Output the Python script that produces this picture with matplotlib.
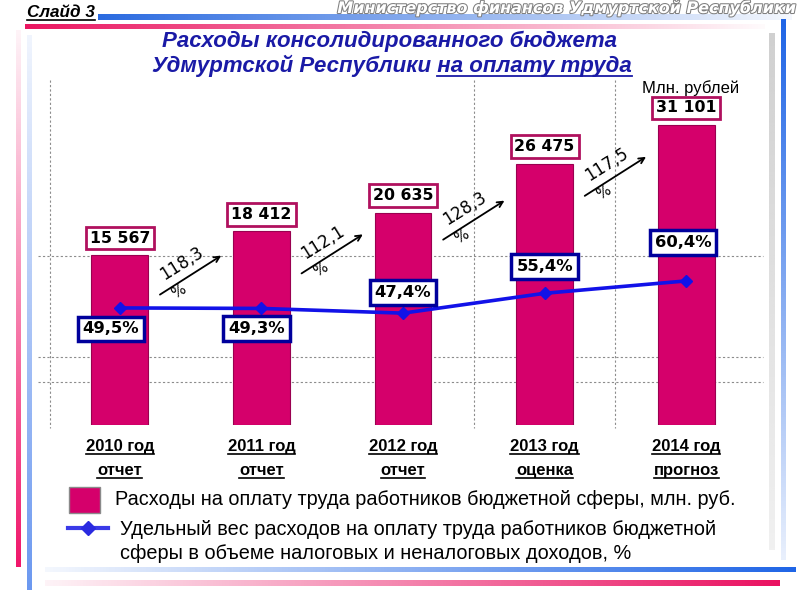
import matplotlib
matplotlib.use('Agg')
import matplotlib.pyplot as plt
import matplotlib.patheffects as pe
from matplotlib.colors import to_rgb
from matplotlib.patches import Rectangle
import numpy as np

years = ['2010 год', '2011 год', '2012 год', '2013 год', '2014 год']
stages = ['отчет', 'отчет', 'отчет', 'оценка', 'прогноз']
payroll = [15567, 18412, 20635, 26475, 31101]   # млн. руб.
share = [49.5, 49.3, 47.4, 55.4, 60.4]          # %
growth = [round(b / a * 100, 1) for a, b in zip(payroll[:-1], payroll[1:])]

bar_name = 'Расходы на оплату труда работников бюджетной сферы, млн. руб.'
line_name = ['Удельный вес расходов на оплату труда работников бюджетной',
             'сферы в объеме налоговых и неналоговых доходов, %']

MAG = '#d5006b'
BLUE = '#1212e8'
NAVY = '#00009c'
TITLE = '#1a1aa6'

fig = plt.figure(figsize=(8, 6), dpi=100)
fig.patch.set_facecolor('white')

# background layer in pixel coords (y down)
bg = fig.add_axes([0, 0, 1, 1], zorder=0)
bg.axis('off')


def grad(x0, x1, y0, y1, color, a0, a1, horizontal=True):
    a = np.linspace(a0, a1, 256)
    if horizontal:
        img = np.zeros((1, 256, 4))
        img[0, :, :3] = to_rgb(color)
        img[0, :, 3] = a
    else:
        img = np.zeros((256, 1, 4))
        img[:, 0, :3] = to_rgb(color)
        img[:, 0, 3] = a
    bg.imshow(img, extent=(x0, x1, y1, y0), aspect='auto', interpolation='bilinear')


grad(98, 792, 14, 20, '#2a6ae0', 1, 0.05)
grad(25, 765, 24, 29, '#ea1560', 1, 0.02)
grad(16, 21, 30, 567, '#f0156a', 0.05, 1, horizontal=False)
grad(27, 32, 35, 590, '#6b98f0', 0.1, 1, horizontal=False)
grad(781, 786, 19, 560, '#1e64e6', 1, 0.1, horizontal=False)
grad(769, 775, 33, 550, '#d0d0d0', 1, 0.3, horizontal=False)
grad(45, 796, 567, 572, '#1e64e6', 0.05, 1)
grad(45, 780, 580, 586, '#ea1060', 0.05, 1)

# dashed grid of the slide
for gy in [256, 357, 382]:
    bg.plot([38, 763], [gy, gy], color='#8c8c8c', lw=0.8, ls=(0, (2, 2)))
for gx in [50, 474, 615]:
    bg.plot([gx, gx], [80, 428], color='#8c8c8c', lw=0.8, ls=(0, (2, 2)))

bg.set_xlim(0, 800)
bg.set_ylim(600, 0)

# chart
ax = fig.add_axes([49 / 800, 175 / 600, 708 / 800, 345 / 600], zorder=2)
ax.patch.set_alpha(0)
x = np.arange(len(years))
floor = -4743
ax.bar(x, [v - floor for v in payroll], bottom=floor, width=0.4, color=MAG,
       edgecolor='#9a0050', linewidth=0.8)
ax.set_xlim(-0.5, 4.5)
ax.set_ylim(floor, 36476)
ax.axis('off')

for xi, v in zip(x, payroll):
    ax.annotate(f'{v:,}'.replace(',', ' '), (xi, v), xytext=(0, 17),
                textcoords='offset pixels', ha='center', va='center',
                fontsize=11.3, fontweight='bold', family='DejaVu Sans', zorder=5,
                bbox=dict(boxstyle='square,pad=0.25', fc='white', ec='#b0105e', lw=2))

ax2 = ax.twinx()
ax2.set_ylim(2.3, 141.4)
ax2.axis('off')
ax2.plot(x, share, color=BLUE, lw=2.6, marker='D', ms=6.5, zorder=3)
pct_off = [(-9, -21), (-5, -20), (0, 21), (0, 27), (-3, 38)]
for xi, v, off in zip(x, share, pct_off):
    ax2.annotate(f'{v:.1f}%'.replace('.', ','), (xi, v), xytext=off,
                 textcoords='offset pixels', ha='center', va='center',
                 fontsize=11.8, fontweight='bold', family='DejaVu Sans', zorder=5,
                 bbox=dict(boxstyle='square,pad=0.3', fc='white', ec=NAVY, lw=2.5))

# growth arrows between bars
for i, g in enumerate(growth):
    mid_val = (payroll[i] + payroll[i + 1]) / 2
    dx, dy = ax.transData.transform((i + 0.5, mid_val))
    mx, my = dx, 600 - dy + 32
    bg.annotate('', xy=(mx + 33, my - 21), xytext=(mx - 33, my + 21),
                arrowprops=dict(arrowstyle='->', color='black', lw=1.3))
    bg.text(mx - 9, my - 12, f'{g:.1f}'.replace('.', ','), rotation=32,
            ha='center', va='center', fontsize=12, family='DejaVu Sans')
    bg.text(mx - 12, my + 16, '%', rotation=32, ha='center', va='center',
            fontsize=10.5, family='DejaVu Sans')

# texts
t_slide = bg.text(27, 17, 'Слайд 3', fontsize=12.3, fontweight='bold', style='italic',
                  family='Liberation Sans', va='baseline')
bg.text(797, 13, 'Министерство финансов Удмуртской Республики', ha='right',
        va='baseline', fontsize=11.5, fontweight='bold', style='italic',
        family='DejaVu Sans', color='white',
        path_effects=[pe.Stroke(linewidth=1.5, foreground='#808080'), pe.Normal()])

title_kw = dict(fontsize=16, fontweight='bold', style='italic', family='Liberation Sans',
                color=TITLE, ha='center', va='baseline')
bg.text(390, 47, 'Расходы консолидированного бюджета', **title_kw)
t_title2 = bg.text(392, 72, 'Удмуртской Республики на оплату труда', **title_kw)

bg.text(691, 93, 'Млн. рублей', ha='center', va='baseline', fontsize=12,
        family='Liberation Sans')

cat_texts = []
for xi, yr, st in zip(x, years, stages):
    px = ax.transData.transform((xi, 0))[0]
    t1 = bg.text(px, 451, yr, ha='center', va='baseline', fontsize=12,
                 fontweight='bold', family='Liberation Sans')
    t2 = bg.text(px, 475, st, ha='center', va='baseline', fontsize=12,
                 fontweight='bold', family='Liberation Sans')
    cat_texts += [(t1, 454), (t2, 478)]

# legend
bg.add_patch(Rectangle((69, 487), 31, 26, fc=MAG, ec='#8a8a8a', lw=1))
bg.text(115, 505, bar_name, va='baseline', fontsize=14.3, family='Liberation Sans')
bg.plot([68, 108], [528, 528], color='#3a3ae8', lw=3)
bg.plot([88], [528], marker='D', ms=7, color='#2a2ae0')
bg.text(120, 535, line_name[0], va='baseline', fontsize=14.3, family='Liberation Sans')
bg.text(120, 559, line_name[1], va='baseline', fontsize=14.3, family='Liberation Sans')

# underlines
fig.canvas.draw()
r = fig.canvas.get_renderer()
bb = t_slide.get_window_extent(r)
bg.plot([bb.x0, bb.x1], [20, 20], color='black', lw=1.2)
for t, uy in cat_texts:
    bb = t.get_window_extent(r)
    bg.plot([bb.x0, bb.x1], [uy, uy], color='black', lw=1.2)
tmp = bg.text(0, 0, 'на оплату труда', **title_kw)
w = tmp.get_window_extent(r).width
tmp.remove()
bb = t_title2.get_window_extent(r)
bg.plot([bb.x1 - w, bb.x1], [76, 76], color=TITLE, lw=1.3)

bg.set_xlim(0, 800)
bg.set_ylim(600, 0)
fig.savefig('out.png', dpi=100)
